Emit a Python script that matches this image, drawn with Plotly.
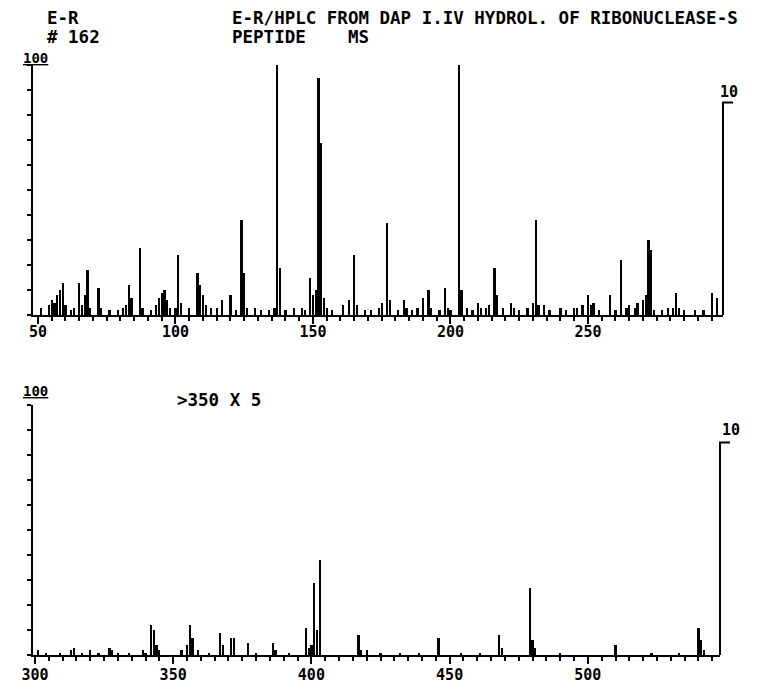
import plotly.graph_objects as go

W, H = 757, 684

# ---- Data ----
top_mz = [51, 54, 55, 56, 57, 58, 59, 60, 62, 63, 65, 66, 67, 68, 69, 72, 73, 76, 79, 81,
          82, 83, 84, 87, 88, 91, 93, 94, 95, 96, 97, 98, 100, 101, 102, 105, 108, 109, 110, 111,
          113, 115, 117, 120, 122, 124, 125, 126, 129, 131, 134, 136, 137, 138, 140, 143, 146, 147, 149, 150,
          151, 152, 153, 154, 155, 157, 161, 163, 165, 166, 169, 171, 174, 175, 177, 178, 181, 183, 184, 186,
          188, 190, 192, 193, 196, 198, 199, 200, 203, 204, 206, 208, 210, 211, 213, 214, 216, 217, 219, 222,
          223, 225, 228, 230, 231, 232, 234, 236, 240, 242, 245, 246, 248, 250, 251, 252, 254, 258, 260, 262,
          264, 265, 267, 268, 270, 271, 272, 273, 274, 277, 279, 281, 282, 283, 285, 289, 292, 295, 297]
top_int = [3, 4, 6, 5, 8, 10, 13, 4, 2, 3, 13, 4, 8, 18, 3, 11, 3, 2, 2, 3,
           4, 12, 7, 27, 3, 2, 4, 7, 9, 10, 6, 3, 3, 24, 5, 3, 17, 12, 8, 4,
           3, 3, 6, 8, 2, 38, 17, 3, 3, 2, 2, 3, 100, 19, 2, 3, 3, 2, 15, 8,
           10, 95, 69, 7, 3, 2, 4, 6, 24, 4, 2, 2, 3, 5, 37, 6, 2, 6, 3, 2,
           3, 7, 10, 3, 2, 11, 3, 2, 100, 10, 3, 2, 5, 3, 3, 4, 19, 8, 3, 5,
           3, 2, 3, 5, 38, 4, 4, 2, 3, 2, 3, 3, 4, 8, 4, 5, 2, 8, 2, 22,
           3, 4, 3, 5, 6, 8, 30, 26, 2, 2, 3, 3, 9, 3, 2, 2, 2, 9, 7]

bot_mz = [301, 304, 309, 313, 314, 317, 320, 323, 327, 328, 330, 334, 339, 340, 342, 343, 344, 345,
          353, 355, 356, 357, 359, 363, 367, 368, 371, 372, 377, 380, 386, 387, 392, 398, 399, 400,
          401, 402, 403, 417, 418, 420, 425, 432, 439, 446, 454, 461, 468, 469, 479, 480, 481, 490,
          510, 523, 533, 540, 541, 542]
bot_int = [2, 1, 1, 2, 3, 1, 2, 1, 3, 2, 1, 1, 2, 1, 12, 10, 4, 2,
           2, 4, 12, 7, 2, 1, 9, 4, 7, 7, 5, 1, 5, 2, 1, 11, 3, 4,
           29, 10, 38, 8, 2, 2, 1, 1, 1, 7, 1, 1, 8, 3, 27, 6, 3, 1,
           4, 1, 1, 11, 6, 2]

top_ticks = [50, 100, 150, 200, 250]
bot_ticks = [300, 350, 400, 450, 500]
scale_marker = 85  # height of the right-hand "10" scale marker, %

FONT = "DejaVu Sans Mono"


def px_x(x):
    return x / W


def px_y(y):
    return 1 - y / H


fig = go.Figure()
fig.add_trace(go.Bar(x=top_mz, y=top_int, width=0.8, marker=dict(color="black", line=dict(width=0)),
                     xaxis="x", yaxis="y", showlegend=False))
fig.add_trace(go.Bar(x=bot_mz, y=bot_int, width=0.8, marker=dict(color="black", line=dict(width=0)),
                     xaxis="x2", yaxis="y2", showlegend=False))

xcommon = dict(showline=True, linecolor="black", linewidth=2, ticks="outside", ticklen=7,
               tickwidth=2, tickcolor="black", showgrid=False, zeroline=False, automargin=False,
               tickfont=dict(family=FONT, size=15, color="black", weight="bold"), fixedrange=True)
ycommon = dict(showline=True, linecolor="black", linewidth=2, ticks="outside", ticklen=4,
               tickwidth=1.5, tickcolor="black", showgrid=False, zeroline=False, automargin=False,
               showticklabels=False, range=[0, 100], tickvals=list(range(0, 101, 10)),
               fixedrange=True)

fig.update_layout(
    width=W, height=H, margin=dict(l=0, r=0, t=0, b=0, autoexpand=False),
    paper_bgcolor="white", plot_bgcolor="white", bargap=0,
    xaxis=dict(domain=[px_x(33), px_x(723)], range=[48.2, 299.1], anchor="y",
               tickvals=top_ticks, ticklabelstandoff=-5,
               minor=dict(ticks="outside", dtick=5, tick0=50, ticklen=4, tickwidth=1.5, tickcolor="black"),
               **xcommon),
    yaxis=dict(domain=[px_y(315), px_y(65)], anchor="x", **ycommon),
    xaxis2=dict(domain=[px_x(33), px_x(720)], range=[299.3, 547.8], anchor="y2",
                tickvals=bot_ticks, ticklabelstandoff=-2,
                minor=dict(ticks="outside", dtick=5, tick0=300, ticklen=4, tickwidth=1.5, tickcolor="black"),
                **xcommon),
    yaxis2=dict(domain=[px_y(655), px_y(405)], anchor="x2", **ycommon),
)

# right-hand scale markers ("10")
for xr, yr, hook in (("x domain", "y", 0.0145), ("x2 domain", "y2", 0.0145)):
    fig.add_shape(type="path", xref=xr, yref=yr,
                  path=f"M 1 0 L 1 {scale_marker} L {1 + hook} {scale_marker}",
                  line=dict(color="black", width=2))

def txt(s, x, y, size=17.5, anchor="left"):
    fig.add_annotation(text=s, x=px_x(x), y=px_y(y), xref="paper", yref="paper",
                       xanchor=anchor, yanchor="middle", showarrow=False,
                       font=dict(family=FONT, size=size, color="black", weight="bold"))

txt("E-R", 45, 18)
txt("# 162", 45, 37)
txt("E-R/HPLC FROM DAP I.IV HYDROL. OF RIBONUCLEASE-S", 230, 18)
txt("PEPTIDE    MS", 230, 37)
txt("<u>100</u>", 21, 58, size=14)
txt("10", 729, 92, size=15, anchor="center")
txt("<u>100</u>", 21, 391, size=14)
txt(">350 X 5", 175, 400)
txt("10", 731, 430, size=15, anchor="center")

fig.write_html("out.html")
